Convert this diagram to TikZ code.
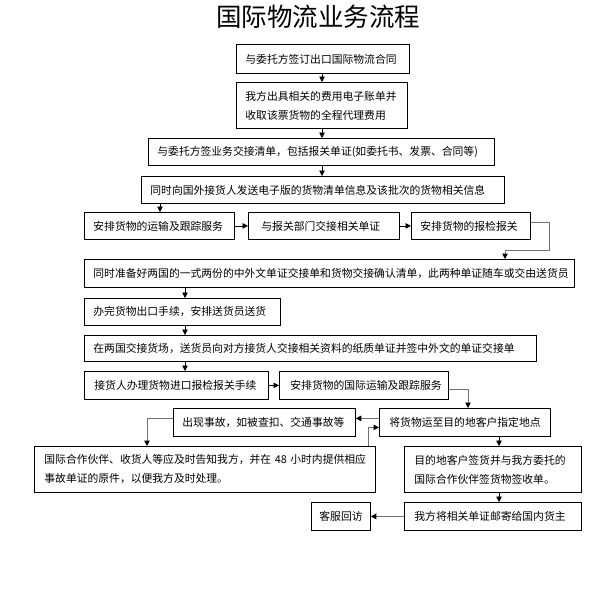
\documentclass[tikz,border=0pt]{standalone}
\usepackage{fontspec}
\newfontfamily\cjk{Noto Sans CJK SC}
\usetikzlibrary{arrows.meta}
\begin{document}
\begin{tikzpicture}[x=1pt,y=-1pt,
  box/.style={draw, line width=0.8pt, anchor=north west, inner xsep=9pt, inner ysep=0pt,
    align=left, font=\cjk\fontsize{10.8}{19}\selectfont},
  arr/.style={-{Triangle[length=5.5pt,width=5.5pt]}, line width=0.8pt},
  garr/.style={-{Triangle[length=5.5pt,width=5.5pt,color=black]}, draw=black!55, line width=1pt}
]
\fill[white] (0,0) rectangle (596,597);
\useasboundingbox (0,0) rectangle (596,597);

\node[font=\cjk\fontsize{25.5}{25.5}\selectfont] (title) at (318,17) {国际物流业务流程};

\node[box, text width=155pt, minimum height=29pt] (b1) at (236,44) {与委托方签订出口国际物流合同};
\node[box, text width=153pt, minimum height=46pt] (b2) at (236,82) {我方出具相关的费用电子账单并\\收取该票货物的全程代理费用};
\node[box, text width=328pt, minimum height=27pt] (b3) at (148,138) {与委托方签业务交接清单，包括报关单证(如委托书、发票、合同等)};
\node[box, text width=345pt, minimum height=27pt] (b4) at (141,176) {同时向国外接货人发送电子版的货物清单信息及该批次的货物相关信息};
\node[box, text width=132pt, minimum height=27pt] (b5a) at (84,212) {安排货物的运输及跟踪服务};
\node[box, inner xsep=13pt, text width=125pt, minimum height=27pt] (b5b) at (248,212) {与报关部门交接相关单证};
\node[box, text width=101pt, minimum height=27pt] (b5c) at (411,212) {安排货物的报检报关};
\node[box, text width=472pt, minimum height=28pt] (b6) at (84,259) {同时准备好两国的一式两份的中外文单证交接单和货物交接确认清单，此两种单证随车或交由送货员};
\node[box, text width=178pt, minimum height=27pt] (b7) at (84,298) {办完货物出口手续，安排送货员送货};
\node[box, text width=434pt, minimum height=26pt] (b8) at (84,335) {在两国交接货场，送货员向对方接货人交接相关资料的纸质单证并签中外文的单证交接单};
\node[box, inner xsep=10pt, text width=164pt, minimum height=28pt] (b9a) at (84,371) {接货人办理货物进口报检报关手续};
\node[box, inner xsep=11pt, text width=147pt, minimum height=28pt] (b9b) at (279,371) {安排货物的国际运输及跟踪服务};
\node[box, text width=164pt, minimum height=28pt] (b10a) at (173,408) {出现事故，如被查扣、交通事故等};
\node[box, inner xsep=10pt, text width=151pt, minimum height=28pt] (b10b) at (379,408) {将货物运至目的地客户指定地点};
\node[box, inner xsep=10pt, text width=321pt, minimum height=46pt] (b11a) at (34,446) {国际合作伙伴、收货人等应及时告知我方，并在~48~小时内提供相应\\事故单证的原件，以便我方及时处理。};
\node[box, inner xsep=10pt, text width=157pt, minimum height=46pt] (b11b) at (404,446) {目的地客户签货并与我方委托的\\国际合作伙伴签货物签收单。};
\node[box, inner xsep=8pt, text width=43pt, minimum height=28pt] (b12a) at (311,502) {客服回访};
\node[box, inner xsep=10pt, text width=157pt, minimum height=28pt] (b12b) at (404,502) {我方将相关单证邮寄给国内货主};

\coordinate (c322) at (322,0);
\coordinate (c160) at (160,0);
\coordinate (c185) at (185,0);
\coordinate (c505) at (505,0);
\coordinate (c499) at (499,0);
\coordinate (c368) at (368,0);
\coordinate (c147) at (147,0);
\coordinate (c468) at (468,0);
\coordinate (k1) at (549,250);

\draw[arr] (b1.south -| c322) -- (b2.north -| c322);
\draw[arr] (b2.south -| c322) -- (b3.north -| c322);
\draw[arr] (b3.south -| c322) -- (b4.north -| c322);
\draw[arr] (b4.south -| c160) -- (b5a.north -| c160);
\draw[arr] (b5a.east) -- (b5b.west);
\draw[arr] (b5b.east) -- (b5c.west);
\draw[garr] ([yshift=3pt]b5c.east) -| (k1) -| (b6.north -| c505);
\draw[arr] (b6.south -| c185) -- (b7.north -| c185);
\draw[arr] (b7.south -| c185) -- (b8.north -| c185);
\draw[arr] (b8.south -| c185) -- (b9a.north -| c185);
\draw[arr] (b9a.east) -- (b9b.west);
\draw[garr] ([yshift=-4pt]b9b.east) -| (b10b.north -| c468);
\draw[garr] ([yshift=4pt]b10b.west) -- ([yshift=4pt]b10a.east);
\draw[garr] ([yshift=4pt]b10a.west) -| (b11a.north -| c147);
\draw[garr] (b11a.north -| c368) |- ([yshift=-5pt]b10b.west);
\draw[arr] (b10b.south -| c499) -- (b11b.north -| c499);
\draw[arr] (b11b.south -| c499) -- (b12b.north -| c499);
\draw[garr, line width=1.8pt] (b12b.west) -- (b12a.east);
\end{tikzpicture}
\end{document}
